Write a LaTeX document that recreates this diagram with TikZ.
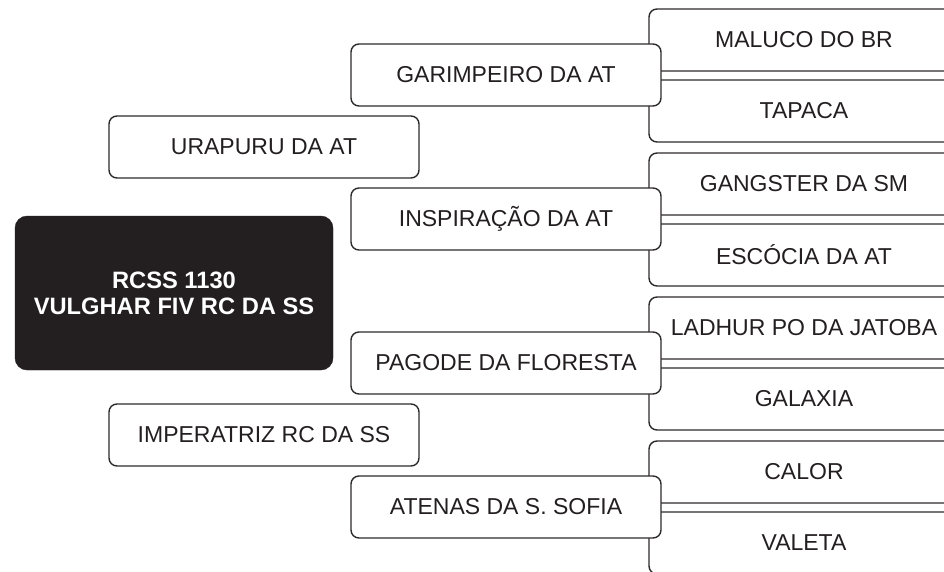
\documentclass[tikz,border=0pt]{standalone}
\usepackage{fontspec}
\setmainfont{Liberation Sans}
\definecolor{ink}{HTML}{231F20}
\definecolor{edge}{HTML}{2E2B2C}
\tikzset{
  box/.style={draw=edge, line width=1.4pt, fill=white, rounded corners=8pt,
    minimum width=310pt, minimum height=62pt, inner sep=0pt, text=ink,
    font=\fontsize{23}{26}\selectfont},
  mainbox/.style={draw=ink, fill=ink, rounded corners=12pt,
    minimum width=318pt, minimum height=154pt, inner sep=0pt, text=white, align=center,
    font=\fontsize{23.7}{26}\selectfont\bfseries}
}
\begin{document}
\begin{tikzpicture}[x=1pt,y=-1pt]
\useasboundingbox[fill=white] (0,0) rectangle (944,572);
% column 3 (great-grandparents)
\node[box] (g1) at (804,40)  {MALUCO DO BR};
\node[box] (g2) at (804,111) {TAPACA};
\node[box] (g3) at (804,184) {GANGSTER DA SM};
\node[box] (g4) at (804,255) {ESCÓCIA DA AT};
\node[box] (g5) at (804,328) {LADHUR PO DA JATOBA};
\node[box] (g6) at (804,399) {GALAXIA};
\node[box] (g7) at (804,472) {CALOR};
\node[box] (g8) at (804,543) {VALETA};
% column 2 (grandparents)
\node[box] (ss) at (506,75)  {GARIMPEIRO DA AT};
\node[box] (sd) at (506,219) {INSPIRAÇÃO DA AT};
\node[box] (ds) at (506,363) {PAGODE DA FLORESTA};
\node[box] (dd) at (506,507) {ATENAS DA S. SOFIA};
% column 1 (parents)
\node[box] (s) at (264,147) {URAPURU DA AT};
\node[box] (d) at (264,435) {IMPERATRIZ RC DA SS};
% main animal
\node[mainbox] (m) at (174,293) {RCSS 1130\\VULGHAR FIV RC DA SS};
\end{tikzpicture}
\end{document}
